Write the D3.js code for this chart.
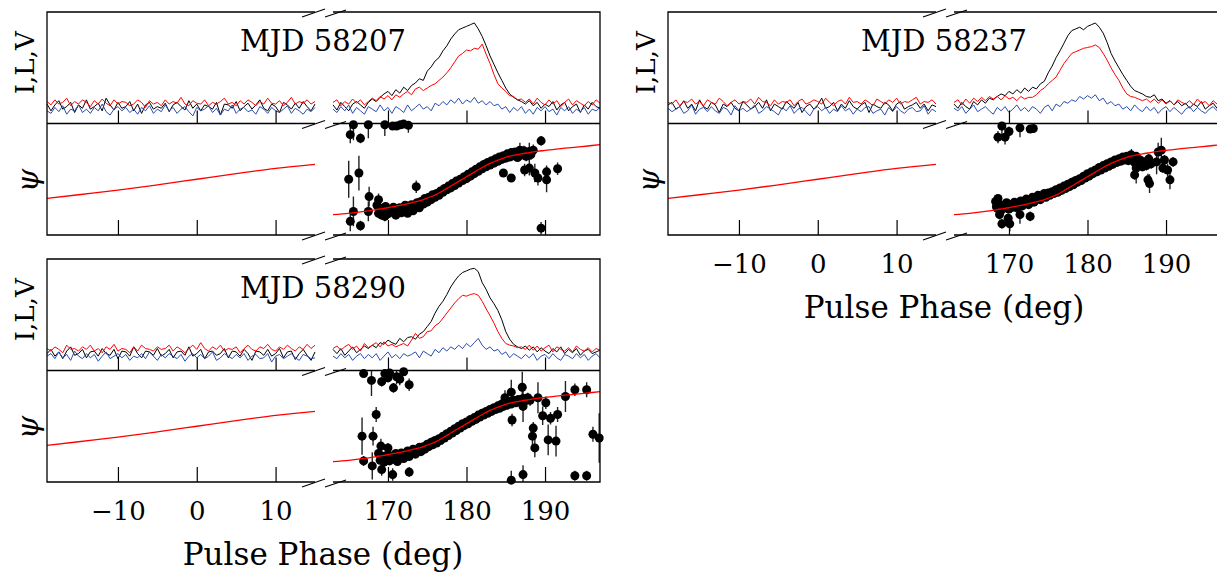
<!DOCTYPE html>
<html>
<head>
<meta charset="utf-8">
<script src="https://cdn.jsdelivr.net/npm/d3@7"></script>
<style>
body { margin: 0; background: #fff; }
svg text { font-family: "DejaVu Serif", serif; fill: #000; }
</style>
</head>
<body>
<div id="chart_wrapper"></div>
<script>
// phase ranges of the two pieces of the broken axis (deg)
var leftRange = [-19, 15], rightRange = [163, 197];
var leftTicks = [-10, 0, 10], rightTicks = [170, 180, 190];
var mjds = ["58207", "58237", "58290"];

// profiles, 0.5 deg bins: I (total), L (linear), V (circular)
var I1L = [3,-5,2,7,-3,0,5,-7,2,-2, 8,-3,0,4,-5,10,2,-4,5,-2, 0,6,-5,3,-8,2,5,-3,0,-2, 4,-6,2,5,0,-4,7,-2,3,-5, 2,0,-3,5,-10,3,2,-2,6,-5, 0,4,-3,2,8,-2,-5,3,0,-7, 5,2,-3,4,-2,6,0,-5,3];
var L1L = [6,2,8,3,5,10,1,6,3,8, 5,0,7,3,9,4,1,8,3,6, 5,1,3,8,5,-1,7,3,5,1, 8,3,6,4,11,3,1,7,4,3, 8,1,5,3,6,10,3,5,1,7, 3,8,5,1,6,3,10,4,3,7, 1,5,11,3,6,4,8,3,6];
var V1L = [-5,-8,-1,-6,1,-9,-3,-5,2,-7, -3,-8,-1,-5,3,-6,-10,-3,0,-5, -1,-7,-3,-9,-1,-5,1,-8,-3,-6, 2,-5,-1,-8,-3,0,-6,-11,-1,-5, -3,1,-7,-2,-10,-3,-5,2,-8,-3, -1,-6,-4,-9,0,-3,-8,-1,-5,-7, -3,1,-8,-2,-5,-9,-3,-6,-1];
var I1R = [2,-4,5,0,-5,3,6,2,-2,5, 9,6,11,15,18,13,20,16,23,19, 25,28,33,31,42,47,54,58,66,72, 80,86,91,93,95,97,99,92,83,72, 60,50,40,31,22,15,11,8,6,3, 7,1,5,-2,3,0,6,-4,2,5, -5,0,3,-7,2,-3,5,0,-2];
var L1R = [5,8,1,6,3,9,4,8,2,6, 10,7,12,9,13,8,14,11,15,18, 14,21,23,19,22,25,27,31,35,40, 46,53,60,63,67,66,69,68,74,62, 51,38,27,22,18,13,12,8,9,5, 9,3,10,5,2,8,3,7,0,5, 9,2,7,4,1,6,2,8,4];
var V1R = [-3,-7,0,-5,2,-8,-1,-5,-9,0, -3,-6,2,-5,-1,-8,0,-3,-7,2, -5,-1,3,-3,0,-5,4,1,6,2, 8,4,10,3,8,5,11,4,7,2, 6,1,3,-3,0,-7,-1,-5,0,-8, -3,-9,-1,-5,0,-6,-3,-10,-1,-5, 0,-8,-3,-6,-1,-9,-3,-5,-1];

var I2L = [2,5,-3,0,7,-2,3,-5,8,0, -3,5,2,-7,3,0,5,-2,-5,6, 2,-3,0,5,-2,8,-5,3,0,-3, 6,2,-2,5,-7,0,3,-3,2,10, -2,0,5,-5,3,-2,7,0,-3,2, 5,-7,3,0,-2,5,2,-5,3,6, -3,0,2,5,-2,3,-5,2,0];
var L2L = [5,3,8,1,6,5,9,3,6,1, 8,5,3,10,6,1,5,8,3,6, 5,9,3,11,6,5,1,8,3,6, 5,8,1,6,9,3,5,8,6,3, 10,5,1,6,8,3,11,5,6,3, 8,5,1,9,6,3,8,5,10,3, 6,5,8,11,3,6,5,8,3];
var V2L = [-2,-6,-3,0,-8,-5,2,-9,-3,-1, -6,0,-5,-8,-1,-3,-10,1,-5,-2, -6,-3,2,-8,-5,0,-3,-6,-10,-1, -5,1,-8,-3,-1,-6,-11,-3,0,-5, -1,-8,-3,-6,1,-5,-2,-9,-3,-6, -1,0,-8,-5,-3,-10,-1,-6,0,-5, -8,-3,-1,-6,-5,1,-9,-3,-6];
var I2R = [3,-2,5,0,-3,6,2,8,4,10, 8,12,15,13,18,15,20,16,22,18, 23,21,27,30,40,48,58,66,75,84, 90,92,94,91,95,97,99,94,87,76, 63,54,46,38,31,24,19,17,15,12, 11,14,7,9,4,7,2,6,1,4, -2,3,0,6,-3,1,4,-2,3];
var L2R = [5,8,2,9,4,10,6,11,7,12, 9,12,8,13,9,11,7,12,9,11, 11,14,19,22,27,31,35,43,51,57, 63,65,67,69,70,71,73,70,63,55, 46,38,31,22,15,12,11,9,7,9, 5,9,4,8,3,7,2,8,5,3, 7,2,9,4,6,1,7,3,5];
var V2R = [-2,-5,0,-8,-3,2,-6,-3,0,-5, -9,-1,-5,0,-7,-3,2,-5,-1,-6, 0,-3,-8,-1,2,-5,3,0,6,4, 8,6,12,9,13,10,14,7,10,3, 6,1,3,-3,0,-5,2,-3,-6,0, -5,-1,-8,-3,0,-6,-1,-5,-9,-3, 0,-6,-1,-5,-8,-3,0,-5,-1];

var I3L = [0,5,-3,2,-6,3,8,-2,0,5, -5,2,3,-3,6,0,-2,5,-6,3, 2,-3,8,0,-5,3,2,-2,6,-3, 0,5,-5,2,3,-2,8,-3,0,5, -6,2,3,-2,0,6,-5,3,2,-3, 5,0,-8,3,2,-2,5,-3,0,6, -5,2,3,-7,0,5,-2,-8,2];
var L3L = [6,3,8,5,1,10,5,6,3,8, 5,10,3,6,1,8,5,11,3,6, 5,1,8,3,10,6,5,3,8,5, 6,10,3,8,5,1,6,10,5,13, 6,3,8,5,10,3,6,5,8,1, 6,10,5,3,8,6,11,5,3,8, 5,10,6,3,8,5,11,6,10];
var V3L = [-3,0,-6,2,-5,-1,-8,3,-3,-6, 0,-5,-1,-9,-3,2,-6,-3,0,-5, -1,-8,-3,-5,0,-6,2,-3,-8,-1, -5,0,-3,-6,-1,-9,-3,0,-5,-1, -6,-3,2,-8,-5,0,-3,-6,-1,-5, 0,-8,-3,-1,-6,-5,0,-10,-3,-1, -6,-3,0,-5,-8,-1,-3,-6,-5];
var I3R = [5,0,6,-2,3,8,1,5,9,6, 10,7,13,11,16,13,11,18,14,19, 20,17,23,26,32,38,48,56,62,70, 79,86,92,96,98,100,101,97,84,76, 66,59,51,40,26,17,11,8,6,9, 4,8,2,7,3,0,6,2,8,0, 5,1,6,-2,3,5,0,2,4];
var L3R = [6,9,4,8,11,5,9,3,12,7, 10,13,8,14,9,11,8,10,12,9, 16,24,18,20,26,27,33,36,42,48, 54,60,65,69,68,70,71,69,62,53, 45,36,26,18,12,10,9,7,8,5, 10,4,9,3,7,10,2,8,5,3, 7,2,9,5,3,7,2,6,4];
var V3R = [-3,-6,0,-5,-1,-8,-3,0,-6,-1, -5,0,-8,-3,2,-5,-1,-6,0,-3, -1,2,-5,3,0,-3,5,1,7,3, 8,5,10,6,12,8,13,18,10,5, 8,3,5,-1,2,-5,0,-3,-6,-1, -5,0,-8,-3,-1,-6,0,-5,-8,-1, -3,-6,0,-5,-1,-8,-3,0,-5];

// position angle points: [phase, PA, error] (deg)
var PA1 = [[165.6,88,25],[165.2,72,14],[166.5,66,8],[167.5,88,22],[169.6,88,18],[170.6,86,5],[171.1,86,5],[171.6,88,4],[172.0,89,5],[172.6,87,12],
  [165.0,0,30],[166.3,10,28],[167.6,-28,16],[165.6,-52,24],[165.2,-68,16],[166.5,-75,8],[167.5,-52,16],[168.8,-33,10],[173.6,-12,10],[169.4,-51,10],[169.6,-60,8],
  [168.6,-42,7],[168.8,-55,6],[169.0,-47,5],[169.2,-58,6],[169.5,-50,5],[169.7,-44,5],[170.0,-56,6],[170.2,-49,4],[170.5,-53,5],[170.7,-45,4],[171.0,-58,6],[171.2,-50,4],[171.5,-46,4],[171.7,-54,5],[172.0,-48,4],[172.2,-42,4],[172.5,-55,6],[172.7,-47,4],[173.0,-41,4],[173.2,-51,5],[173.5,-44,4],[173.7,-38,4],[174.0,-46,5],[174.2,-36,4],[174.5,-40,4],[174.7,-31,4],[175.0,-37,4],[175.2,-29,3],[175.5,-33,4],[175.7,-25,3],[176.0,-29,3],[176.2,-23,3],[176.5,-26,3],[176.7,-19,3],[177.0,-21,3],[177.2,-15,3],[177.5,-17,3],[177.7,-11,3],[178.0,-14,3],[178.2,-7,3],[178.5,-10,3],[178.7,-3,3],[179.0,-6,3],[179.2,0,3],[179.5,-2,3],[179.7,4,3],[180.0,1,3],[180.2,8,3],[180.5,5,3],[180.7,12,3],[181.0,9,3],[181.2,16,3],[181.5,13,3],[181.7,20,3],[182.0,17,3],[182.2,24,3],[182.5,20,3],[182.7,27,4],[183.0,23,4],[183.2,30,4],[183.5,26,4],[183.7,33,4],[184.0,29,4],[184.2,36,5],[184.5,32,5],[184.7,38,5],[185.0,34,5],[185.2,41,5],[185.5,36,6],[185.7,43,6],[186.0,38,6],[186.2,44,6],[186.5,35,7],[186.7,45,7],[187.0,39,7],[187.3,46,8],[187.6,37,8],[187.9,44,8],[188.2,40,9],[188.5,47,9],
  [184.7,10,6],[185.7,2,6],[187.4,15,10],[188.0,18,12],[188.7,10,15],[189.1,2,12],[190.2,12,10],[190.2,-1,20],[191.6,17,10],[189.5,-79,10],[189.5,62,8],[186.8,47,12],[188.0,44,15]];
var PA2 = [[169.1,86,20],[168.6,68,10],[169.5,68,12],[170.0,77,8],[171.4,83,15],[172.7,81,6],[173.1,82,5],
  [168.8,-57,8],[169.1,-72,8],[169.9,-63,8],[170.1,-72,12],[171.4,-57,15],[172.7,-60,8],[168.6,-31,6],[168.4,-44,6],
  [168.3,-36,8],[168.5,-47,6],[168.7,-40,5],[169.0,-50,6],[169.2,-42,5],[169.5,-46,5],[169.7,-38,5],[170.0,-48,5],[170.2,-41,4],[170.5,-45,4],[170.7,-37,4],[171.0,-46,5],[171.2,-40,4],[171.5,-35,4],[171.7,-43,4],[172.0,-37,4],[172.2,-32,4],[172.5,-41,4],[172.7,-34,4],[173.0,-29,4],[173.2,-37,4],[173.5,-31,4],[173.7,-26,3],[174.0,-33,4],[174.2,-27,3],[174.5,-23,3],[174.7,-29,3],[175.0,-22,3],[175.2,-26,3],[175.5,-20,3],[175.7,-23,3],[176.0,-17,3],[176.2,-21,3],[176.5,-14,3],[176.7,-18,3],[177.0,-11,3],[177.2,-15,3],[177.5,-8,3],[177.7,-12,3],[178.0,-5,3],[178.2,-9,3],[178.5,-2,3],[178.7,-5,3],[179.0,1,3],[179.2,-2,3],[179.5,5,3],[179.7,2,3],[180.0,9,3],[180.2,5,3],[180.5,12,3],[180.7,9,3],[181.0,15,3],[181.2,12,3],[181.5,19,3],[181.7,15,3],[182.0,22,3],[182.2,18,3],[182.5,25,3],[182.7,21,3],[183.0,28,3],[183.2,24,4],[183.5,31,4],[183.7,27,4],[184.0,33,4],[184.2,29,4],[184.5,36,4],[184.7,31,5],[185.0,37,5],[185.2,30,5],[185.5,39,5],[185.7,33,6],[186.0,27,6],[186.2,37,6],[186.5,24,7],[186.7,31,7],[187.0,20,7],[187.2,28,7],[187.5,22,8],[187.8,33,8],[188.1,25,8],
  [186.0,7,8],[186.2,18,25],[187.7,-1,10],[187.9,-7,15],[188.8,28,20],[189.0,44,15],[189.4,47,20],[189.8,31,8],[190.2,15,10],[190.5,-1,15],[190.9,28,8],[189.6,18,8],[185.6,39,10]];
var PA3 = [[166.9,85,5],[167.9,74,25],[169.2,72,8],[169.6,85,8],[170.2,86,10],[170.7,62,8],[171.1,80,12],[171.5,76,10],[172.0,88,5],[172.7,67,10],[170.0,78,6],
  [166.7,-16,30],[168.1,-16,15],[168.5,19,12],[169.1,-32,12],[166.9,-56,8],[168.0,-64,22],[169.2,-70,10],[170.6,-78,10],[172.7,-74,8],[170.0,-35,8],[169.7,-56,8],
  [168.8,-44,7],[169.0,-55,6],[169.2,-48,5],[169.5,-58,6],[169.7,-50,5],[170.0,-45,5],[170.2,-56,6],[170.5,-49,4],[170.7,-53,5],[171.0,-44,4],[171.2,-57,6],[171.5,-48,4],[171.7,-43,4],[172.0,-52,5],[172.2,-45,4],[172.5,-40,4],[172.7,-49,5],[173.0,-42,4],[173.2,-37,4],[173.5,-45,4],[173.7,-39,4],[174.0,-34,4],[174.2,-41,4],[174.5,-33,4],[174.7,-37,4],[175.0,-29,3],[175.2,-33,3],[175.5,-26,3],[175.7,-30,3],[176.0,-23,3],[176.2,-27,3],[176.5,-20,3],[176.7,-23,3],[177.0,-16,3],[177.2,-19,3],[177.5,-12,3],[177.7,-15,3],[178.0,-8,3],[178.2,-11,3],[178.5,-4,3],[178.7,-7,3],[179.0,0,3],[179.2,-3,3],[179.5,4,3],[179.7,1,3],[180.0,7,3],[180.2,4,3],[180.5,11,3],[180.7,8,3],[181.0,14,3],[181.2,11,3],[181.5,18,3],[181.7,15,3],[182.0,21,3],[182.2,18,3],[182.5,24,3],[182.7,21,4],[183.0,27,4],[183.2,24,4],[183.5,30,4],[183.7,27,4],[184.0,33,4],[184.2,29,5],[184.5,36,5],[184.7,32,5],[185.0,38,5],[185.2,34,5],[185.5,40,6],[185.7,36,6],[186.0,42,6],[186.3,38,7],[186.6,43,7],[186.9,40,7],[187.2,45,8],[187.5,41,8],[187.8,46,8],[188.1,42,9],
  [184.9,46,12],[185.7,55,20],[185.8,10,10],[187.1,63,25],[187.2,32,25],[188.4,-16,15],[188.7,-35,15],[188.5,-3,10],[189.1,46,25],[189.7,17,15],[190.1,38,10],[190.4,-22,25],[190.7,13,10],[191.4,-24,25],[191.6,19,12],[192.6,48,25],[193.8,59,10],[195.3,59,12],[196.1,-13,12],[196.9,-19,40],[185.7,-87,15],[187.2,-78,15],[193.8,-80,8],[195.3,-80,8]];

// RVM fit (same for all epochs)
var rvmLeftPhase = [-19,-15,-10,-5,0,5,10,15];
var rvmLeftPA = [-31,-25,-17.5,-9,0,9,17.5,24];
var rvmRightPhase = [163,165,167,169,170,171,172,173,174,175,176,177,178,179,180,181,182,183,184,185,186,187,188,189,190,192,194,196,197];
var rvmRightPA = [-57,-55,-52,-48,-46,-43.5,-41,-38,-35,-30.5,-25.5,-18.5,-11,-3.5,4,11.5,19,25.5,31,35.5,38.5,41,43,45,46.5,49.5,52,54.5,56];

var width = 1217, height = 581;
var panelH = 223, midH = 111.5;
var profColors = ["#000000", "#ff0000", "#2a4db0"];

var svg = d3.select("#chart_wrapper").append("svg").attr("width", width).attr("height", height);

var xL = d3.scaleLinear().domain(leftRange).range([0, 268]);
var xR = d3.scaleLinear().domain(rightRange).range([286, 553]);
var yProf = d3.scaleLinear().domain([-20, 112]).range([midH, 0]);
var yPA = d3.scaleLinear().domain([-90, 90]).range([panelH, midH]);

var panels = [
    {mjd: mjds[0], left: [I1L, L1L, V1L], right: [I1R, L1R, V1R], pa: PA1, x: 47, y: 12, labels: false},
    {mjd: mjds[1], left: [I2L, L2L, V2L], right: [I2R, L2R, V2R], pa: PA2, x: 668, y: 12, labels: true},
    {mjd: mjds[2], left: [I3L, L3L, V3L], right: [I3R, L3R, V3R], pa: PA3, x: 47, y: 259, labels: true}
];

function profPath(arr, x) {
    var d0 = x.domain(), step = (d0[1] - d0[0]) / (arr.length - 1);
    return d3.line().x((d, i) => x(d0[0] + i * step)).y(d => yProf(d))(arr);
}

panels.forEach(function(p, k) {
    var g = svg.append("g").attr("transform", "translate(" + p.x + "," + p.y + ")");

    g.append("clipPath").attr("id", "paclip" + k).append("rect")
        .attr("x", 286).attr("y", midH).attr("width", 267).attr("height", panelH - midH);

    // profiles
    [0, 1, 2].forEach(function(j) {
        g.append("path").attr("d", profPath(p.left[j], xL)).attr("fill", "none").attr("stroke", profColors[j]).attr("stroke-width", 1);
        g.append("path").attr("d", profPath(p.right[j], xR)).attr("fill", "none").attr("stroke", profColors[j]).attr("stroke-width", 1);
    });

    // PA points
    var pts = g.append("g");
    pts.append("g").attr("clip-path", "url(#paclip" + k + ")").selectAll("line").data(p.pa).enter().append("line")
        .attr("x1", d => xR(d[0])).attr("x2", d => xR(d[0]))
        .attr("y1", d => yPA(d[1] - d[2])).attr("y2", d => yPA(d[1] + d[2]))
        .attr("stroke", "#222").attr("stroke-width", 1.4);
    pts.selectAll("circle").data(p.pa).enter().append("circle")
        .attr("cx", d => xR(d[0])).attr("cy", d => yPA(d[1])).attr("r", 4.5).attr("fill", "#000");

    // RVM curve
    var rvm = d3.line().curve(d3.curveMonotoneX);
    g.append("path").attr("d", rvm.x(d => xL(d[0])).y(d => yPA(d[1]))(rvmLeftPhase.map((v, i) => [v, rvmLeftPA[i]])))
        .attr("fill", "none").attr("stroke", "#ff0000").attr("stroke-width", 1.3);
    g.append("path").attr("d", rvm.x(d => xR(d[0])).y(d => yPA(d[1]))(rvmRightPhase.map((v, i) => [v, rvmRightPA[i]])))
        .attr("fill", "none").attr("stroke", "#ff0000").attr("stroke-width", 1.3);

    // frames
    var l0 = xL.range()[0], l1 = xL.range()[1], r0 = xR.range()[0], r1 = xR.range()[1];
    g.append("path").attr("d", "M" + l1 + ",0H" + l0 + "V" + panelH + "H" + l1 + "M" + l0 + "," + midH + "H" + l1)
        .attr("fill", "none").attr("stroke", "#000").attr("stroke-width", 1.3);
    g.append("path").attr("d", "M" + r0 + ",0H" + r1 + "V" + panelH + "H" + r0 + "M" + r0 + "," + midH + "H" + r1)
        .attr("fill", "none").attr("stroke", "#000").attr("stroke-width", 1.3);

    // break marks
    [0, midH, panelH].forEach(function(yy) {
        g.append("line").attr("x1", l1 - 13).attr("y1", yy + 5).attr("x2", l1 + 10).attr("y2", yy - 3)
            .attr("stroke", "#000").attr("stroke-width", 1.2);
        g.append("line").attr("x1", r0 - 8).attr("y1", yy + 5).attr("x2", r0 + 13).attr("y2", yy - 2)
            .attr("stroke", "#000").attr("stroke-width", 1.2);
    });

    // axes (ticks pointing inward)
    [[xL, leftTicks], [xR, rightTicks]].forEach(function(a) {
        g.append("g").attr("transform", "translate(0," + midH + ")")
            .call(d3.axisBottom(a[0]).tickValues(a[1]).tickSize(-13).tickFormat(""))
            .call(s => s.select(".domain").remove())
            .selectAll("line").attr("stroke-width", 1.2);
        var ax = g.append("g").attr("transform", "translate(0," + panelH + ")")
            .call(d3.axisBottom(a[0]).tickValues(a[1]).tickSize(-15))
            .attr("font-family", null).attr("font-size", 26);
        ax.select(".domain").remove();
        ax.selectAll("line").attr("stroke-width", 1.2);
        ax.selectAll("text").attr("y", 38).attr("dy", null);
        if (!p.labels) ax.selectAll("text").remove();
    });

    g.append("text").attr("x", 276).attr("y", 39).attr("text-anchor", "middle").attr("font-size", 29).text("MJD " + p.mjd);

    g.append("text").attr("transform", "translate(-22," + (midH / 2 - 5) + ") rotate(-90)")
        .attr("text-anchor", "middle").attr("dy", "0.35em").attr("font-size", 26).text("I,L,V");
    g.append("text").attr("transform", "translate(-20," + (midH + 57) + ") rotate(-90)")
        .attr("text-anchor", "middle").attr("dy", "0.35em").attr("font-size", 30).attr("font-style", "italic").text("ψ");

    if (p.labels) {
        g.append("text").attr("x", 276).attr("y", panelH + 83).attr("text-anchor", "middle").attr("font-size", 31).text("Pulse Phase (deg)");
    }
});
</script>
</body>
</html>
